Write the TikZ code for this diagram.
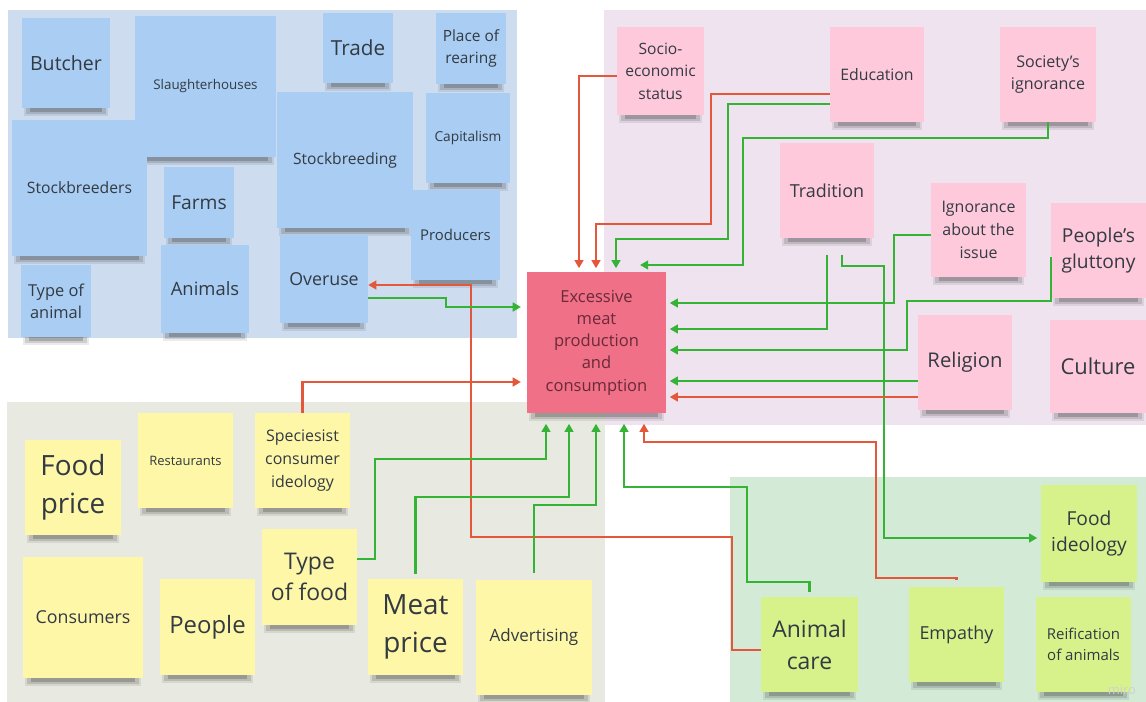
\documentclass[tikz,border=0pt]{standalone}
\usepackage{fontspec}
\setmainfont{Open Sans}
\usetikzlibrary{arrows.meta}
\definecolor{bluebg}{HTML}{CDDCEF}
\definecolor{bluenote}{HTML}{A9CDF3}
\definecolor{pinkbg}{HTML}{EEE3EF}
\definecolor{pinknote}{HTML}{FEC9DB}
\definecolor{yelbg}{HTML}{E8E9E0}
\definecolor{yelnote}{HTML}{FEF7A8}
\definecolor{grnbg}{HTML}{D3EAD6}
\definecolor{grnnote}{HTML}{D7F18B}
\definecolor{mainbox}{HTML}{EF7087}
\definecolor{maintext}{HTML}{6A2A38}
\definecolor{notetext}{HTML}{333A42}
\definecolor{redline}{HTML}{E5573A}
\definecolor{greenline}{HTML}{34B334}
\newcommand{\fs}[2]{\fontsize{#1}{#2}\selectfont}
\pgfdeclarelayer{panel}
\pgfdeclarelayer{shade}
\pgfsetlayers{panel,shade,main}
\newcommand{\shd}[1]{%
  \fill[black, opacity=0.08] ([xshift=2pt,yshift=1pt]#1.south west) rectangle ([xshift=-2pt,yshift=-6.5pt]#1.south east);
  \fill[black, opacity=0.12] ([xshift=4pt,yshift=1pt]#1.south west) rectangle ([xshift=-4pt,yshift=-5pt]#1.south east);
  \fill[black, opacity=0.18] ([xshift=7pt]#1.south west) rectangle ([xshift=-7pt,yshift=-3.5pt]#1.south east);}
\begin{document}
\begin{tikzpicture}[x=0.03cm,y=-0.03cm,
  note/.style={rectangle, inner sep=1pt, align=center, text=notetext},
  sz/.style 2 args={minimum width=#1*0.03cm, minimum height=#2*0.03cm},
  bn/.style={note, fill=bluenote},
  pn/.style={note, fill=pinknote},
  yn/.style={note, fill=yelnote},
  gn/.style={note, fill=grnnote},
  conn/.style={line width=1.8pt, -{Triangle[length=7pt,width=7.5pt]}},
  rarr/.style={conn, draw=redline},
  garr/.style={conn, draw=greenline},
]
\useasboundingbox (0,0) rectangle (1146,702);
\begin{pgfonlayer}{panel}
\fill[white] (0,0) rectangle (1146,702);
\fill[bluebg] (8,10) rectangle (517,338);
\fill[pinkbg] (604,10) rectangle (1146,425);
\fill[yelbg] (7,402) rectangle (605,702);
\fill[grnbg] (730,477) rectangle (1146,702);
\end{pgfonlayer}

% blue notes
\node[bn, sz={141}{141}, font=\fs{11.4}{15}] (slaughter) at (205.5,86.5) {Slaughterhouses};
\node[bn, sz={88}{90}, font=\fs{16.7}{22}] (butcher) at (66,63) {Butcher};
\node[bn, sz={70}{70}, font=\fs{17.7}{23}] (trade) at (358,48) {Trade};
\node[bn, sz={70}{71}, font=\fs{13.2}{19.3}] (place) at (471,48.5) {Place of\\rearing};
\node[bn, sz={135}{136}, font=\fs{13.4}{18}] (stockbreeders) at (79.5,188) {Stockbreeders};
\node[bn, sz={136}{136}, font=\fs{13.3}{18}] (stockbreeding) at (345,160) {Stockbreeding};
\node[bn, sz={84}{90}, font=\fs{11.7}{16}] (capitalism) at (468,138) {Capitalism};
\node[bn, sz={70}{71}, font=\fs{16.4}{22}] (farms) at (199,202.5) {Farms};
\node[bn, sz={89}{90}, font=\fs{12.7}{17}] (producers) at (455.5,235) {Producers};
\node[bn, sz={70}{72}, font=\fs{14}{19}] (typeanimal) at (56,301) {Type of\\animal};
\node[bn, sz={88}{88}, font=\fs{15.7}{21}] (animals) at (205,289) {Animals};
\node[bn, sz={88}{88}, font=\fs{15.2}{20}] (overuse) at (324,279) {Overuse};

% pink notes
\node[pn, sz={87}{88}, font=\fs{13.3}{19.1}] (socio) at (660.5,71) {Socio-\\economic\\status};
\node[pn, sz={94}{95}, font=\fs{13.5}{18}] (education) at (877,74.5) {Education};
\node[pn, sz={96}{95}, font=\fs{13.7}{19}] (society) at (1048,74.5) {Society's\\ignorance};
\node[pn, sz={94}{95}, font=\fs{15.3}{20}] (tradition) at (827,190.5) {Tradition};
\node[pn, sz={95}{94}, font=\fs{13.6}{19.4}] (ignorance) at (978.5,230) {Ignorance\\about the\\issue};
\node[pn, sz={95}{95}, font=\fs{16.4}{22.7}] (gluttony) at (1098.5,250.5) {People's\\gluttony};
\node[pn, sz={94}{95}, font=\fs{17.3}{23}] (religion) at (965,362.5) {Religion};
\node[pn, sz={96}{93}, font=\fs{18.7}{25}] (culture) at (1098,366.5) {Culture};
\node[note, fill=mainbox, text=maintext, sz={139}{141}, font=\fs{14.1}{19}] (main) at (596.5,342.5) {Excessive\\meat\\production\\and\\consumption};

% yellow notes
\node[yn, sz={96}{95}, font=\fs{23.8}{32.3}] (foodprice) at (73,487.5) {Food\\price};
\node[yn, sz={95}{95}, font=\fs{11.1}{15}] (restaurants) at (185.5,460.5) {Restaurants};
\node[yn, sz={95}{95}, font=\fs{13.6}{19.4}] (speciesist) at (302.5,460.5) {Speciesist\\consumer\\ideology};
\node[yn, sz={120}{121}, font=\fs{15.2}{20}] (consumers) at (83,617.5) {Consumers};
\node[yn, sz={95}{96}, font=\fs{20.4}{27}] (people) at (207.5,627) {People};
\node[yn, sz={95}{96}, font=\fs{19.6}{27}] (typefood) at (309.5,577) {Type\\of food};
\node[yn, sz={95}{96}, font=\fs{23.8}{32}] (meatprice) at (415.5,627) {Meat\\price};
\node[yn, sz={116}{115}, font=\fs{14.5}{19}] (advertising) at (534,637.5) {Advertising};

% green notes
\node[gn, sz={96}{97}, font=\fs{16.4}{22.7}] (foodideology) at (1089,533.5) {Food\\ideology};
\node[gn, sz={97}{95}, font=\fs{19.6}{27.2}] (animalcare) at (809.5,644.5) {Animal\\care};
\node[gn, sz={95}{95}, font=\fs{15.3}{20}] (empathy) at (956.5,634.5) {Empathy};
\node[gn, sz={95}{95}, font=\fs{12.8}{18.1}] (reification) at (1083.5,644.5) {Reification\\of animals};

\node[text=black!18, font=\fs{11}{12}] (miro) at (1122,690) {miro};

% shadows
\begin{pgfonlayer}{shade}
\foreach \n in {slaughter,butcher,trade,place,stockbreeders,stockbreeding,capitalism,farms,producers,typeanimal,animals,overuse,socio,education,society,tradition,ignorance,gluttony,religion,culture,main,foodprice,restaurants,speciesist,consumers,people,typefood,meatprice,advertising,foodideology,animalcare,empathy,reification}{\shd{\n}}
\end{pgfonlayer}

% connectors
\coordinate (e4) at (640,265);
\draw[rarr, shorten >=3pt] (socio.west |- 0,76) -| (579,0 |- main.north);
\draw[rarr, shorten >=3pt] (education.west |- 0,94) -- (711,94) -- (711,224) -| (596,0 |- main.north);
\draw[garr, shorten >=3pt] (education.west |- 0,104) -- (728,104) -- (728,239) -| (616,0 |- main.north);
\draw[garr] (society.south) |- (743,138) |- (e4);
\draw[garr, shorten >=3pt] (ignorance.west |- 0,235) -- (894,235) |- (main.east |- 0,303);
\draw[garr, shorten >=3pt, shorten <=14pt] (tradition.south) |- (main.east |- 0,329);
\draw[garr, shorten >=3pt, shorten <=14pt] (842,0 |- tradition.south) |- (884,266) |- (foodideology.west |- 0,538);
\draw[garr, shorten >=3pt] (gluttony.west |- 0,257) -- (gluttony.west |- 0,301) -| (907,350) -- (main.east |- 0,350);
\draw[garr, shorten >=3pt] (religion.west |- 0,381) -- (main.east |- 0,381);
\draw[rarr, shorten >=3pt] (religion.west |- 0,397) -- (main.east |- 0,397);
\draw[rarr] (animalcare.west |- 0,650) -| (732,537) -| (471,285) -- (overuse.east |- 0,285);
\draw[garr, shorten >=5pt] (overuse.east |- 0,298) -| (446,307) -- (main.west |- 0,307);
\draw[rarr, shorten >=5pt] (speciesist.north) |- (main.west |- 0,382);
\draw[garr, shorten >=9pt] (typefood.east |- 0,559) -| (375,459) -| (546,0 |- main.south);
\draw[garr, shorten >=9pt, shorten <=4pt] (meatprice.north) |- (569,497) -- (569,0 |- main.south);
\draw[garr, shorten >=9pt, shorten <=6pt] (advertising.north) |- (596,505) -- (596,0 |- main.south);
\draw[garr, shorten >=9pt, shorten <=4pt] (animalcare.north) |- (747,582) |- (624,487) -- (624,0 |- main.south);
\draw[rarr, shorten >=9pt, shorten <=6pt] (empathy.north) |- (876,578) |- (644,442) -- (644,0 |- main.south);
\end{tikzpicture}
\end{document}
